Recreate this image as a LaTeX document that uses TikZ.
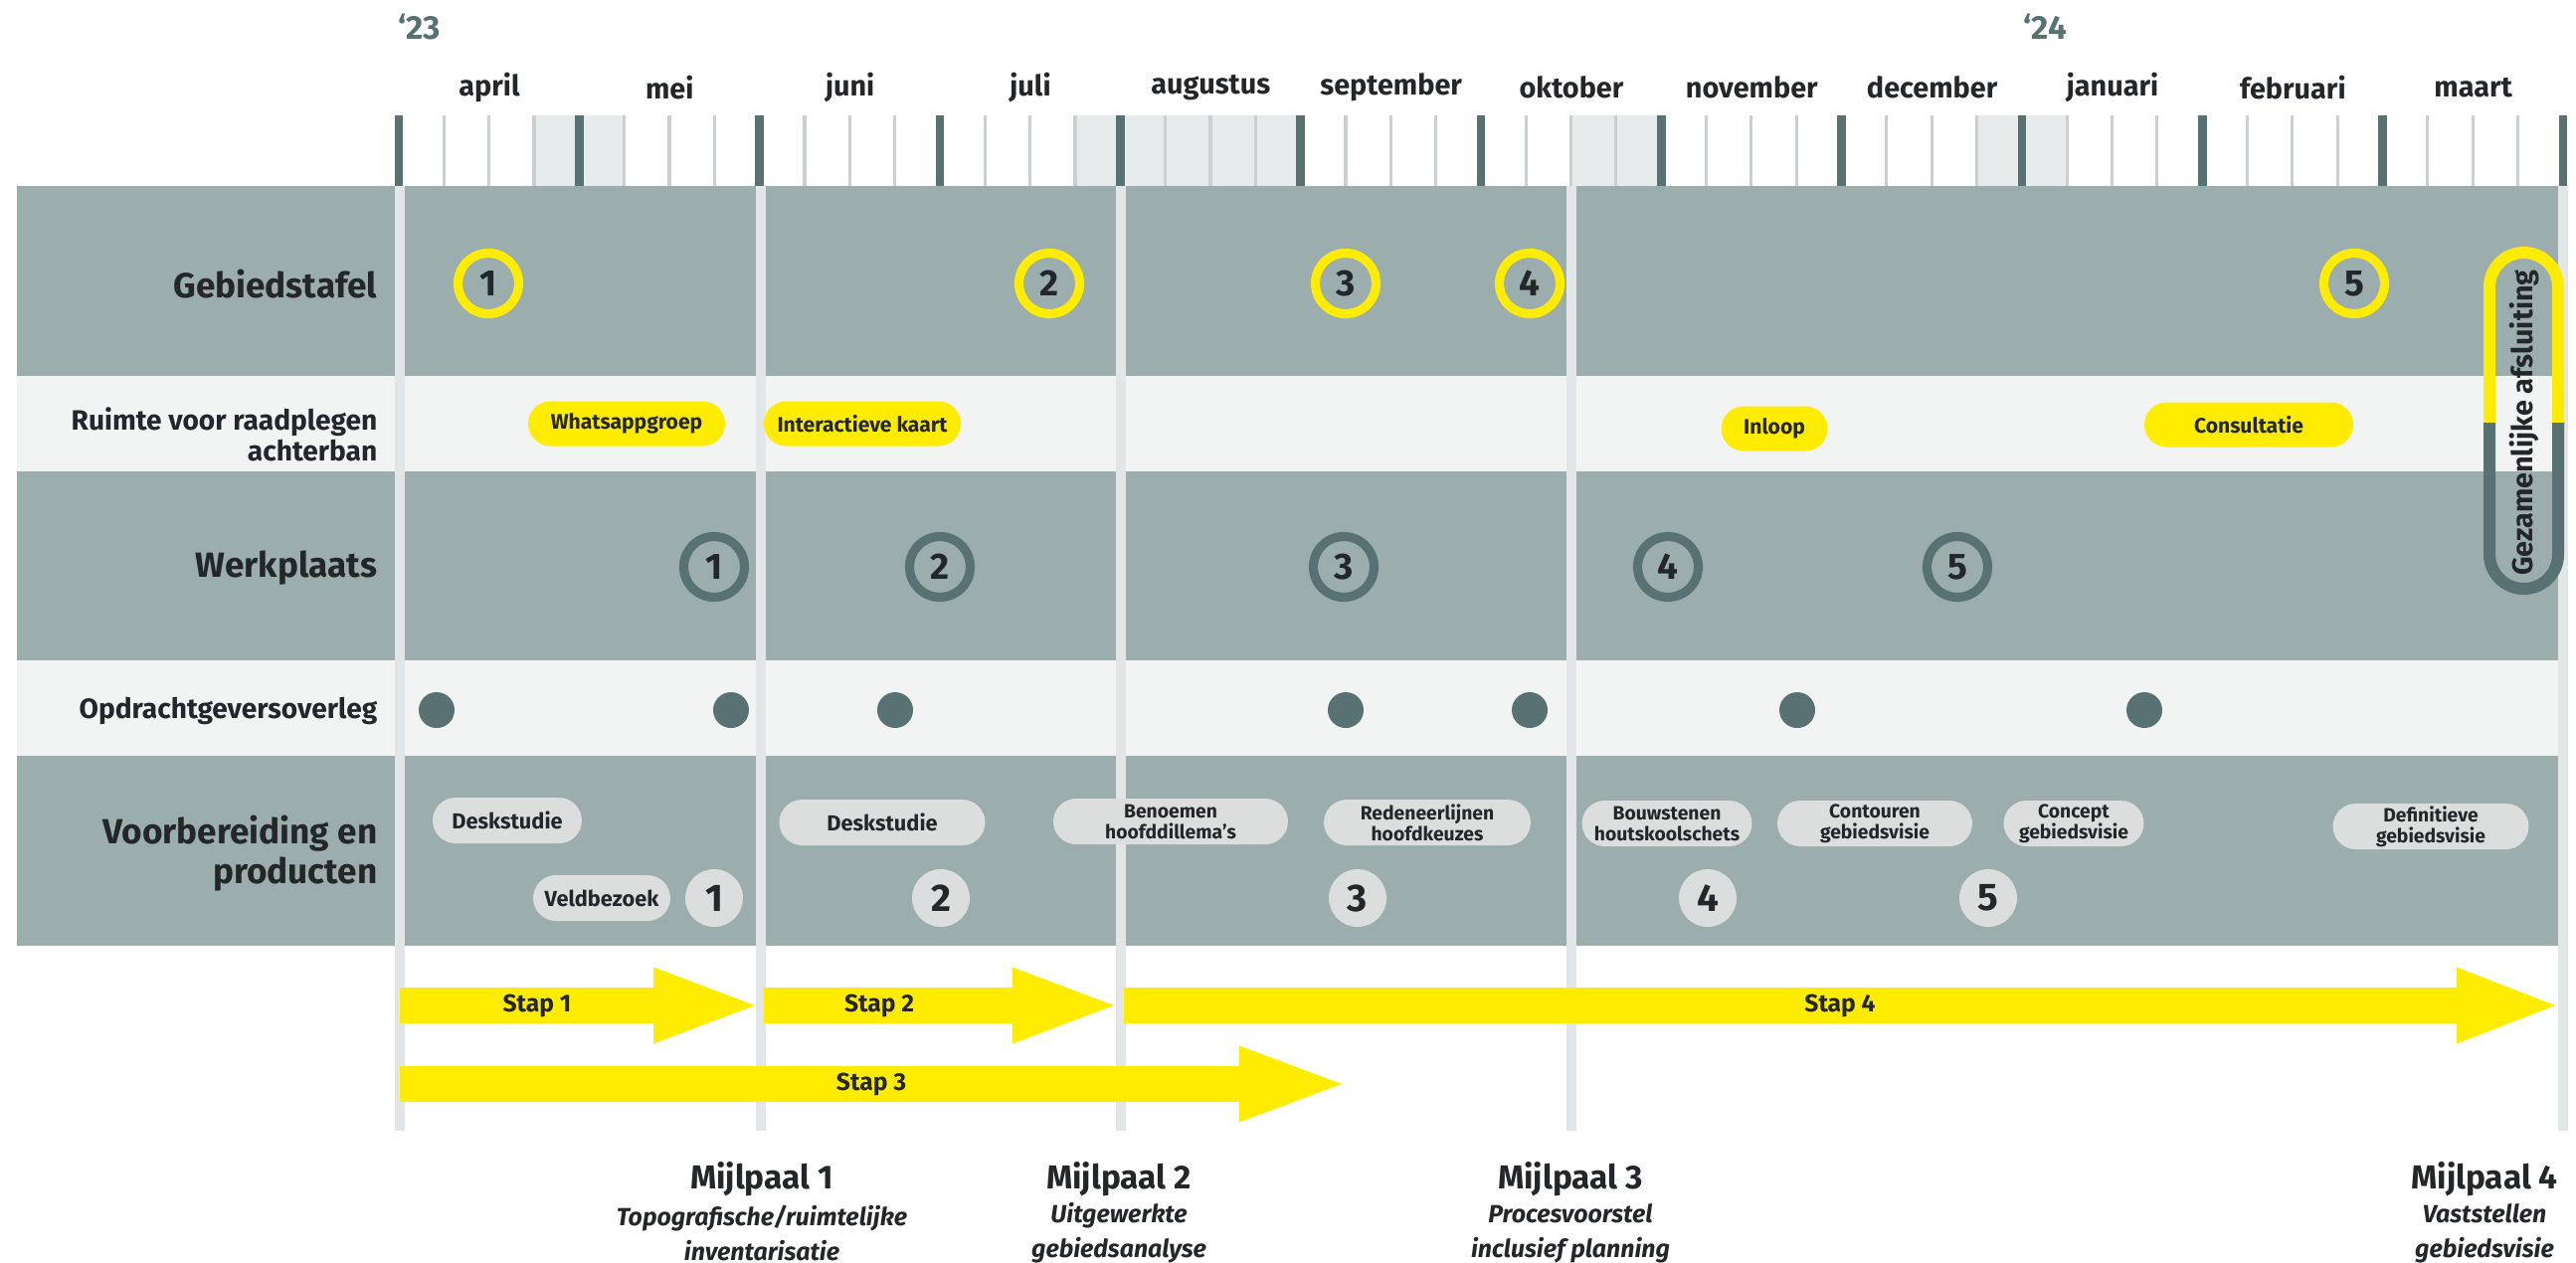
\documentclass[tikz,border=0pt]{standalone}
\usepackage{fontspec}
\setmainfont{Fira Sans}
\usetikzlibrary{positioning}

\definecolor{cBand}{HTML}{9BADAC}
\definecolor{cLight}{HTML}{F2F4F4}
\definecolor{cTeal}{HTML}{587173}
\definecolor{cYellow}{HTML}{FFEC00}
\definecolor{cPill}{HTML}{DCDDDD}
\definecolor{cSep}{HTML}{E3E6E7}
\definecolor{cShade}{HTML}{E7EBEB}
\definecolor{cTick}{HTML}{CACFCF}
\definecolor{cInk}{HTML}{23272A}

\begin{document}
\begin{tikzpicture}[
        rowlbl/.style={anchor=east, align=right, inner sep=0pt, text=cInk, font=\bfseries\fontsize{10}{11.4}\selectfont},
        rowlblsm/.style={rowlbl, font=\bfseries\fontsize{8}{8.8}\selectfont},
        month/.style={text=cInk, font=\bfseries\fontsize{8.2}{10}\selectfont},
        year/.style={anchor=west, inner sep=0pt, text=cTeal, font=\bfseries\fontsize{9.5}{11}\selectfont},
        ring/.style={circle, line width=2.6pt, fill=cBand, minimum size=0.61cm, inner sep=0pt, text=cInk, font=\bfseries\fontsize{10.5}{12}\selectfont},
        gtring/.style={ring, draw=cYellow},
        wpring/.style={ring, draw=cTeal},
        dot/.style={circle, fill=cTeal, minimum size=0.36cm, inner sep=0pt},
        ypill/.style={rectangle, rounded corners=0.225cm, fill=cYellow, minimum height=0.45cm, inner sep=0pt, text=cInk, font=\bfseries\fontsize{6}{7}\selectfont},
        gpill/.style={rectangle, rounded corners=0.23cm, fill=cPill, minimum height=0.46cm, inner sep=0pt, align=center, text=cInk, font=\bfseries\fontsize{6.2}{7}\selectfont},
        gpill2/.style={gpill, font=\bfseries\fontsize{5.5}{6}\selectfont},
        numc/.style={circle, fill=cPill, minimum size=0.58cm, inner sep=0pt, text=cInk, font=\bfseries\fontsize{11}{12}\selectfont},
        staplbl/.style={text=cInk, font=\bfseries\fontsize{7}{8}\selectfont},
        mijl/.style={text=cInk, font=\bfseries\fontsize{9.5}{11}\selectfont},
        mijlsub/.style={align=center, text=cInk, font=\bfseries\itshape\fontsize{7.1}{10}\selectfont}
    ]
    \useasboundingbox (0,0) rectangle (25.90,-12.69);

    % rows
    \foreach \ya/\yb/\cc in {-1.87/-3.78/cBand, -3.78/-4.74/cLight, -4.74/-6.64/cBand, -6.64/-7.60/cLight, -7.60/-9.51/cBand}
        \fill[\cc] (0.17,\ya) rectangle (25.72,\yb);

    % weeks and months
    \foreach \w in {3,4,15,16,17,18,19,26,27,35,36}
        \fill[cShade] ({4.01+0.4533*\w},-1.16) rectangle ({4.01+0.4533*(\w+1)},-1.87);
    \foreach \w in {1,...,47}
        \draw[cTick, line width=0.9pt] ({4.01+0.4533*\w},-1.16) -- ++(0,-0.71);
    \foreach \m in {0,...,12}
        \draw[cTeal, line width=2.4pt] ({4.01+1.8133*\m},-1.16) -- ++(0,-0.71);
    \foreach \mn [count=\i from 0] in {april,mei,juni,juli,augustus,september,oktober,november,december,januari,februari,maart}
        \node[month] (mo\i) at ({4.92+1.8133*\i},-0.88) {\mn};
    \node[year] (y23) at (4.00,-0.27) {‘23};
    \node[year] (y24) at (20.34,-0.27) {‘24};

    \foreach \x in {4.02,7.65,11.27,15.80,25.77}
        \fill[cSep] (\x-0.05,-1.87) rectangle (\x+0.05,-11.37);

    % row labels
    \node[rowlbl] (lgt) at (3.80,-2.86) {Gebiedstafel};
    \node[rowlblsm] (lrv) at (3.80,-4.37) {Ruimte voor raadplegen\\achterban};
    \node[rowlbl] (lwp) at (3.80,-5.71) {Werkplaats};
    \node[rowlblsm] (log) at (3.80,-7.15) {Opdrachtgeversoverleg};
    \node[rowlbl] (lvp) at (3.80,-8.58) {Voorbereiding en\\producten};

    % sessions
    \foreach \x [count=\i] in {4.91,10.55,13.53,15.38,23.67}
        \node[gtring] (gt\i) at (\x,-2.85) {\i};
    \foreach \x [count=\i] in {7.18,9.45,13.51,16.77,19.68}
        \node[wpring] (wp\i) at (\x,-5.70) {\i};
    \foreach \x [count=\i] in {4.39,7.35,9.00,13.53,15.38,18.07,21.56}
        \node[dot] (og\i) at (\x,-7.14) {};

    \node[ypill, minimum width=1.98cm] (rv1) at (6.30,-4.26) {Whatsappgroep};
    \node[ypill, minimum width=1.98cm] (rv2) at (8.67,-4.26) {Interactieve kaart};
    \node[ypill, minimum width=1.07cm] (rv3) at (17.84,-4.31) {Inloop};
    \node[ypill, minimum width=2.10cm] (rv4) at (22.61,-4.27) {Consultatie};

    \node[gpill, minimum width=1.50cm] (vb1) at (5.10,-8.25) {Deskstudie};
    \node[gpill, minimum width=1.38cm] (vb2) at (6.05,-9.03) {Veldbezoek};
    \node[gpill, minimum width=2.07cm] (vb3) at (8.87,-8.27) {Deskstudie};
    \node[gpill2, minimum width=2.36cm] (vb4) at (11.77,-8.26) {Benoemen\\hoofddillema's};
    \node[gpill2, minimum width=2.08cm] (vb5) at (14.35,-8.27) {Redeneerlijnen\\hoofdkeuzes};
    \node[gpill2, minimum width=1.71cm] (vb6) at (16.76,-8.28) {Bouwstenen\\houtskoolschets};
    \node[gpill2, minimum width=1.96cm] (vb7) at (18.85,-8.28) {Contouren\\gebiedsvisie};
    \node[gpill2, minimum width=1.41cm] (vb8) at (20.85,-8.28) {Concept\\gebiedsvisie};
    \node[gpill2, minimum width=1.97cm] (vb9) at (24.44,-8.31) {Definitieve\\gebiedsvisie};
    \foreach \x [count=\i] in {7.18,9.46,13.65,17.17,19.99}
        \node[numc] (vn\i) at (\x,-9.03) {\i};

    % closing session
    \node[rotate=90, text=cInk, font=\bfseries\fontsize{8.2}{10}\selectfont] (afsl) at (25.375,-4.25) {Gezamenlijke afsluiting};
    \draw[cYellow, line width=0.12cm] (25.03,-4.25) -- (25.03,-2.885) arc[start angle=180, end angle=0, radius=0.345] -- (25.72,-4.25);
    \draw[cTeal, line width=0.12cm] (25.03,-4.25) -- (25.03,-5.575) arc[start angle=180, end angle=360, radius=0.345] -- (25.72,-4.25);

    % steps
    \foreach \xa/\xb/\xt/\yc/\lx/\lbl [count=\i] in {4.02/6.57/7.59/-10.11/5.40/Stap 1, 7.68/10.18/11.20/-10.11/8.84/Stap 2, 4.02/12.46/13.49/-10.90/8.76/Stap 3, 11.30/24.70/25.69/-10.11/18.50/Stap 4} {
        \fill[cYellow] (\xa,\yc+0.18) -- (\xb,\yc+0.18) -- (\xb,\yc+0.385) -- (\xt,\yc) -- (\xb,\yc-0.385) -- (\xb,\yc-0.18) -- (\xa,\yc-0.18) -- cycle;
        \node[staplbl] (st\i) at (\lx,\yc) {\lbl};
    }

    % milestones
    \node[mijl] (mp1) at (7.66,-11.86) {Mijlpaal 1};
    \node[mijlsub] (ms1) at (7.66,-12.40) {Topografische/ruimtelijke\\inventarisatie};
    \node[mijl] (mp2) at (11.25,-11.86) {Mijlpaal 2};
    \node[mijlsub] (ms2) at (11.25,-12.40) {Uitgewerkte\\gebiedsanalyse};
    \node[mijl] (mp3) at (15.79,-11.86) {Mijlpaal 3};
    \node[mijlsub] (ms3) at (15.79,-12.40) {Procesvoorstel\\inclusief planning};
    \node[mijl] (mp4) at (24.98,-11.86) {Mijlpaal 4};
    \node[mijlsub] (ms4) at (24.98,-12.40) {Vaststellen\\gebiedsvisie};
\end{tikzpicture}
\end{document}
